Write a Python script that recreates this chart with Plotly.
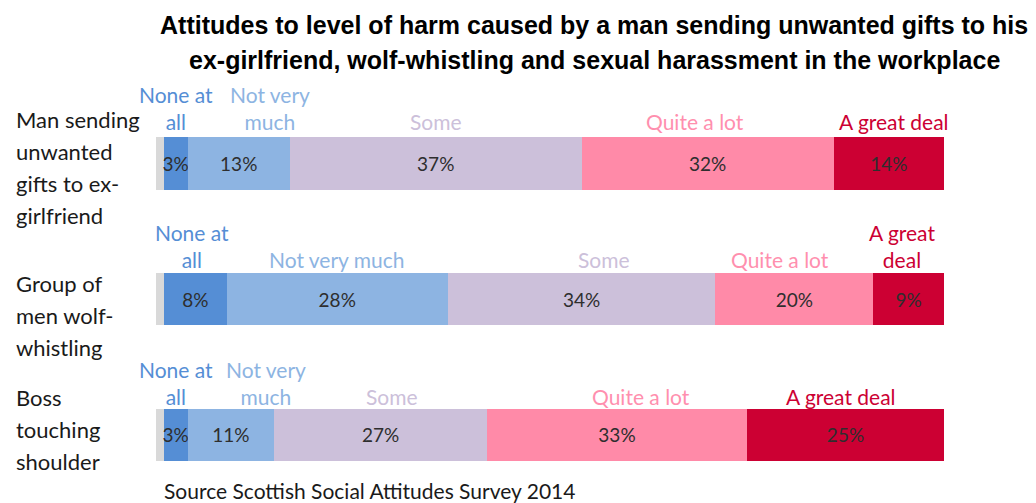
import plotly.graph_objects as go

# ---- data ----
categories = [
    "Man sending unwanted gifts to ex-girlfriend",
    "Group of men wolf-whistling",
    "Boss touching shoulder",
]
category_lines = [
    ["Man sending", "unwanted", "gifts to ex-", "girlfriend"],
    ["Group of", "men wolf-", "whistling"],
    ["Boss", "touching", "shoulder"],
]
series_names = ["Don't know", "None at all", "Not very much", "Some", "Quite a lot", "A great deal"]
dont_know = [1, 1, 1]
none_at_all = [3, 8, 3]
not_very_much = [13, 28, 11]
some = [37, 34, 27]
quite_a_lot = [32, 20, 33]
a_great_deal = [14, 9, 25]
series_values = [dont_know, none_at_all, not_very_much, some, quite_a_lot, a_great_deal]

# label text shown above each segment (per category)
segment_labels = [
    ["None at<br>all", "Not very<br>much", "Some", "Quite a lot", "A great deal"],
    ["None at<br>all", "Not very much", "Some", "Quite a lot", "A great<br>deal"],
    ["None at<br>all", "Not very<br>much", "Some", "Quite a lot", "A great deal"],
]

title_lines = [
    "Attitudes to level of harm caused by a man sending unwanted gifts to his",
    "ex-girlfriend, wolf-whistling and sexual harassment in the workplace",
]
source_text = "Source Scottish Social Attitudes Survey 2014"

# ---- styling ----
bar_colors = ["#d9d9d9", "#558ed5", "#8db4e2", "#ccc0da", "#ff8aa8", "#cc0033"]
label_colors = ["#558ed5", "#8db4e2", "#ccc0da", "#ff8fae", "#cc0033"]
label_xshift = [
    [0, 31, 0, -13, 5],
    [-3, 0, 22, -14, -7],
    [0, 35, 11, 24, -5],
]
label_yextra = [3, 1, 0]
cat_block_offset = [4, 16, -5]
FONT = "Lato"
OFF = 8  # page body margin in browser
W, H = 1036 - OFF, 503 - OFF
ML, MR, MT, MB = 148, 92, 74, 14
BAR_W = 0.385

fig = go.Figure()
for name, vals, col in zip(series_names, series_values, bar_colors):
    is_dk = name == "Don't know"
    fig.add_trace(go.Bar(
        y=categories, x=vals, name=name, orientation="h",
        marker=dict(color=col, line=dict(width=0)),
        width=BAR_W,
        text=None if is_dk else [f"{v}%" for v in vals],
        textposition="none" if is_dk else "inside",
        insidetextanchor="middle",
        textangle=0,
        textfont=dict(family=FONT, size=19, color="#2e2e2e"),
        hoverinfo="x+y+name",
    ))

plot_h = H - MT - MB
plot_w = W - ML - MR
px_per_unit = plot_h / 3.0
bar_half_px = BAR_W / 2 * px_per_unit


def fx(ref_px):
    """reference-picture x pixel -> plot-area paper coordinate"""
    return (ref_px - OFF - ML) / plot_w


def fy(ref_px):
    """reference-picture y pixel -> plot-area paper coordinate"""
    return 1 - (ref_px - OFF - MT) / plot_h


annotations = []
# segment labels above bars
for ci, cat in enumerate(categories):
    cum = dont_know[ci]
    for si in range(5):
        v = series_values[si + 1][ci]
        center = cum + v / 2
        cum += v
        annotations.append(dict(
            x=center, y=cat, xref="x", yref="y",
            text=segment_labels[ci][si], showarrow=False,
            xanchor="center", yanchor="bottom",
            xshift=label_xshift[ci][si], yshift=bar_half_px - 2 + label_yextra[ci],
            font=dict(family=FONT, size=21, color=label_colors[si]),
        ))

# category labels (left)
for ci, cat in enumerate(categories):
    lines = category_lines[ci]
    n = len(lines)
    for li, line in enumerate(lines):
        off = (li - (n - 1) / 2) * 32 + cat_block_offset[ci]
        annotations.append(dict(
            x=fx(14), xref="paper", y=cat, yref="y",
            text=line, showarrow=False, xanchor="left", yanchor="middle",
            yshift=-off,
            font=dict(family=FONT, size=22, color="#1a1a1a"),
        ))

# title lines
for t, yc in zip(title_lines, [25, 60]):
    annotations.append(dict(
        x=fx(594), xref="paper", y=fy(yc), yref="paper", yanchor="middle",
        xanchor="center", text=f"<b>{t}</b>", showarrow=False,
        font=dict(family="Liberation Sans", size=25, color="#000000"),
    ))

# source
annotations.append(dict(
    x=fx(162), xref="paper", y=fy(490), yref="paper", yanchor="middle",
    xanchor="left", text=source_text, showarrow=False,
    font=dict(family=FONT, size=21, color="#1a1a1a"),
))

fig.update_layout(
    barmode="stack",
    width=W, height=H,
    margin=dict(l=ML, r=MR, t=MT, b=MB),
    paper_bgcolor="white", plot_bgcolor="white",
    showlegend=False,
    xaxis=dict(range=[0, 100], visible=False),
    yaxis=dict(categoryorder="array", categoryarray=categories,
               range=[2.4, -0.6], visible=False),
    uniformtext=dict(minsize=19, mode="show"),
    annotations=annotations,
    font=dict(family=FONT),
)

fig.write_html("out.html")
